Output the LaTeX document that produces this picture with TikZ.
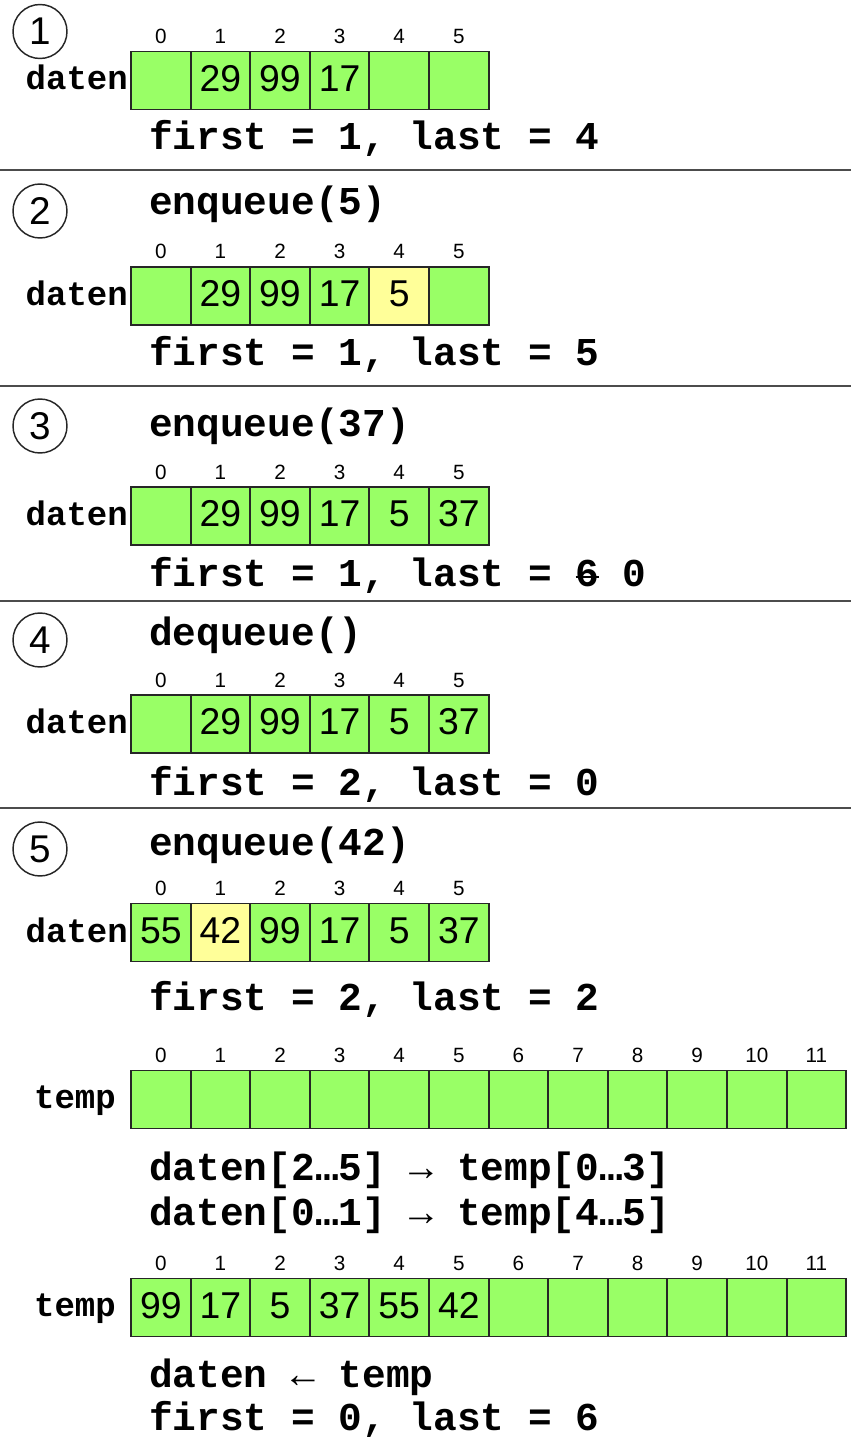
\documentclass[tikz,border=0pt]{standalone}
\usepackage{fontspec}
\setmainfont{Liberation Sans}
\newfontfamily\codefont{Liberation Mono}
\newcommand{\struck}[1]{\rlap{\rule[0.2em]{0.6em}{1.4pt}}#1}
\usetikzlibrary{positioning}
\definecolor{cellgreen}{HTML}{99FF66}
\definecolor{cellyellow}{HTML}{FFFF99}
\tikzset{
  cell/.style={draw=black!85, line width=1.4pt, fill=cellgreen, minimum width=44.7pt, minimum height=43.5pt, inner sep=0pt, font=\fontsize{28}{30}\selectfont, text height=20pt, text depth=4pt},
  newcell/.style={cell, fill=cellyellow},
  idx/.style={font=\fontsize{15.5}{17}\selectfont, inner sep=0pt, anchor=base},
  codetext/.style={font=\codefont\bfseries\fontsize{29.6}{32}\selectfont, inner sep=0pt, anchor=base west},
  arrname/.style={font=\codefont\bfseries\fontsize{25.5}{28}\selectfont, inner sep=0pt, anchor=base east},
  stepnum/.style={draw=black!85, line width=1.1pt, circle, minimum size=40.5pt, inner sep=0pt, font=\fontsize{29}{30}\selectfont},
  panelline/.style={draw=black!70, line width=1.5pt}
}
\begin{document}
\begin{tikzpicture}[x=0.75pt,y=0.75pt,yscale=-1,xscale=1]
\useasboundingbox (0,0) rectangle (851,1437);

%Shape: Panel lines
\draw[panelline] (0,170) -- (851,170);
\draw[panelline] (0,385.5) -- (851,385.5);
\draw[panelline] (0,601) -- (851,601);
\draw[panelline] (0,808) -- (851,808);

% Step 1
\node[stepnum] (s1) at (40,31.5) {1};
\foreach \v [count=\i from 0] in {{},29,99,17,{},{}}
  \node[cell] (a1-\i) at (160.8+59.6*\i,80.5) {\v};
\foreach \i in {0,...,5}
  \node[idx] (n1-\i) at (160.8+59.6*\i,43.5) {\i};
\node[arrname] (l1) at (128,90) {daten};
\node[codetext] (t1) at (149,150) {first = 1, last = 4};

% Step 2
\node[stepnum] (s2) at (40,211) {2};
\node[codetext] (op2) at (149,215) {enqueue(5)};
\foreach \v/\s [count=\i from 0] in {{}/cell,29/cell,99/cell,17/cell,5/newcell,{}/cell}
  \node[\s] (a2-\i) at (160.8+59.6*\i,296) {\v};
\foreach \i in {0,...,5}
  \node[idx] (n2-\i) at (160.8+59.6*\i,259) {\i};
\node[arrname] (l2) at (128,305.5) {daten};
\node[codetext] (t2) at (149,365) {first = 1, last = 5};

% Step 3
\node[stepnum] (s3) at (40,426) {3};
\node[codetext] (op3) at (149,436) {enqueue(37)};
\foreach \v [count=\i from 0] in {{},29,99,17,5,37}
  \node[cell] (a3-\i) at (160.8+59.6*\i,516) {\v};
\foreach \i in {0,...,5}
  \node[idx] (n3-\i) at (160.8+59.6*\i,479) {\i};
\node[arrname] (l3) at (128,525.5) {daten};
\node[codetext] (t3) at (149,586) {first = 1, last = \struck{6} 0};

% Step 4
\node[stepnum] (s4) at (40,640) {4};
\node[codetext] (op4) at (149,645) {dequeue()};
\foreach \v [count=\i from 0] in {{},29,99,17,5,37}
  \node[cell] (a4-\i) at (160.8+59.6*\i,724) {\v};
\foreach \i in {0,...,5}
  \node[idx] (n4-\i) at (160.8+59.6*\i,687) {\i};
\node[arrname] (l4) at (128,733.5) {daten};
\node[codetext] (t4) at (149,795) {first = 2, last = 0};

% Step 5
\node[stepnum] (s5) at (40,849) {5};
\node[codetext] (op5) at (149,855) {enqueue(42)};
\foreach \v/\s [count=\i from 0] in {55/cell,42/newcell,99/cell,17/cell,5/cell,37/cell}
  \node[\s] (a5-\i) at (160.8+59.6*\i,932.5) {\v};
\foreach \i in {0,...,5}
  \node[idx] (n5-\i) at (160.8+59.6*\i,895) {\i};
\node[arrname] (l5) at (128,942) {daten};
\node[codetext] (t5) at (149,1010) {first = 2, last = 2};

% temp, empty
\foreach \i in {0,...,11}
  \node[cell] (b1-\i) at (160.8+59.6*\i,1099.5) {};
\foreach \i in {0,...,11}
  \node[idx] (m1-\i) at (160.8+59.6*\i,1062) {\i};
\node[arrname] (l6) at (116,1108) {temp};
\node[codetext] (c1) at (149,1180) {daten[2…5] → temp[0…3]};
\node[codetext] (c2) at (149,1225) {daten[0…1] → temp[4…5]};

% temp, filled
\foreach \v [count=\i from 0] in {99,17,5,37,55,42,{},{},{},{},{},{}}
  \node[cell] (b2-\i) at (160.8+59.6*\i,1307.5) {\v};
\foreach \i in {0,...,11}
  \node[idx] (m2-\i) at (160.8+59.6*\i,1270) {\i};
\node[arrname] (l7) at (116,1316) {temp};
\node[codetext] (c3) at (149,1387) {daten ← temp};
\node[codetext] (t6) at (149,1430) {first = 0, last = 6};
\end{tikzpicture}
\end{document}
